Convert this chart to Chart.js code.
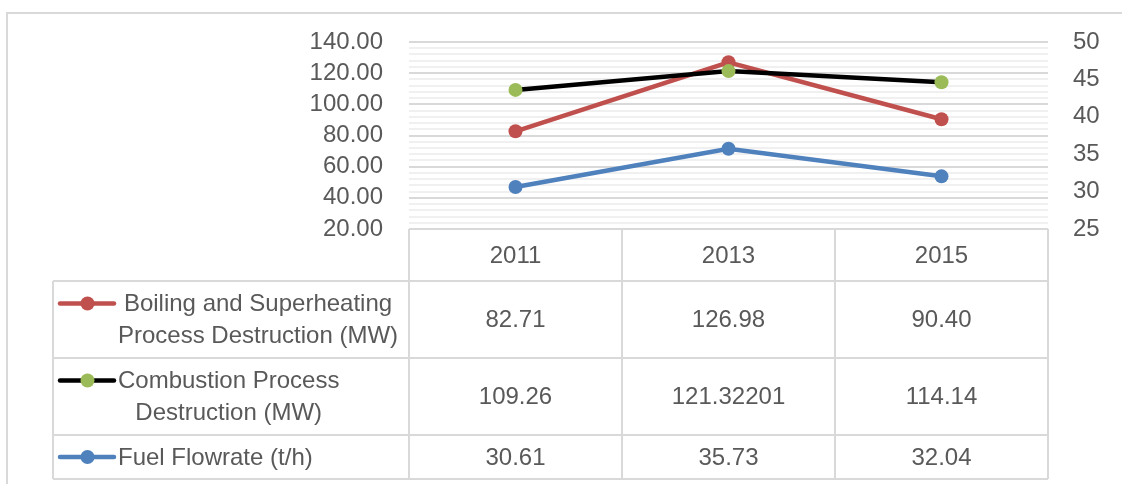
<!DOCTYPE html>
<html>
<head>
<meta charset="utf-8">
<script src="https://cdn.jsdelivr.net/npm/chart.js@4.4.1/dist/chart.umd.min.js"></script>
<style>
  html, body { margin: 0; padding: 0; background: #ffffff; }
  #wrap { width: 1122px; height: 484px; }
</style>
</head>
<body>
<div id="wrap"><canvas id="c" width="1122" height="484"></canvas></div>
<script>
// ---------- data ----------
const categories = ['2011', '2013', '2015'];
const boilingValues = [82.71, 126.98, 90.40];
const combustionValues = [109.26, 121.32201, 114.14];
const fuelValues = [30.61, 35.73, 32.04];

const seriesNames = [
  ['Boiling and Superheating', 'Process Destruction (MW)'],
  ['Combustion Process', 'Destruction (MW)'],
  ['Fuel Flowrate (t/h)']
];
const seriesDecimals = [2, null, 2];

const leftAxisMin = 20, leftAxisMax = 140, leftAxisStep = 20, leftMinorStep = 4;
const rightAxisMin = 25, rightAxisMax = 50, rightAxisStep = 5;

// ---------- style ----------
const TEXT = '#595959';
const GRID = '#d9d9d9';
const MINOR = '#f0f0f0';
const FONT = "'Liberation Sans', Arial, sans-serif";
const FS = 24;
const RED = '#C0504D', BLACK = '#000000', GREEN = '#9BBB59', BLUE = '#4F81BD';

const seriesStyle = [
  { line: RED, marker: RED },
  { line: BLACK, marker: GREEN },
  { line: BLUE, marker: BLUE }
];
const seriesData = [boilingValues, combustionValues, fuelValues];

Chart.defaults.font.family = FONT;
Chart.defaults.font.size = FS;
Chart.defaults.color = TEXT;

const headerH = 52;
const rowHeights = [77, 77, 44];
const legendLeft = 53;

const tablePlugin = {
  id: 'dataTable',
  beforeDraw(chart) {
    const ctx = chart.ctx;
    ctx.save();
    ctx.fillStyle = '#ffffff';
    ctx.fillRect(0, 0, chart.width, chart.height);
    ctx.strokeStyle = GRID;
    ctx.lineWidth = 2;
    ctx.beginPath();
    ctx.moveTo(7, chart.height + 2);
    ctx.lineTo(7, 13);
    ctx.lineTo(chart.width + 2, 13);
    ctx.stroke();
    ctx.restore();
  },
  afterDraw(chart) {
    const ctx = chart.ctx;
    const xs = chart.scales.x;
    const area = chart.chartArea;
    const centers = categories.map((c, i) => xs.getPixelForValue(i));
    const half = (centers[1] - centers[0]) / 2;
    const edges = [centers[0] - half].concat(centers.map(c => c + half));
    const top = area.bottom;
    const rowTops = [top + headerH];
    rowHeights.forEach((h, i) => rowTops.push(rowTops[i] + h));
    const bottom = rowTops[rowTops.length - 1];

    ctx.save();
    ctx.strokeStyle = GRID;
    ctx.lineWidth = 2;
    ctx.beginPath();
    // header top
    ctx.moveTo(edges[0], top); ctx.lineTo(edges[edges.length - 1], top);
    // row lines
    rowTops.forEach(y => { ctx.moveTo(legendLeft, y); ctx.lineTo(edges[edges.length - 1], y); });
    // vertical lines
    edges.forEach(x => { ctx.moveTo(x, top); ctx.lineTo(x, bottom); });
    ctx.moveTo(legendLeft, rowTops[0]); ctx.lineTo(legendLeft, bottom);
    ctx.stroke();

    ctx.fillStyle = TEXT;
    ctx.font = FS + 'px ' + FONT;
    ctx.textAlign = 'center';
    ctx.textBaseline = 'middle';
    // header
    categories.forEach((c, i) => ctx.fillText(c, centers[i], top + headerH / 2 + 1));
    // rows
    const lineGap = 32;
    seriesData.forEach((vals, r) => {
      const cy = (rowTops[r] + rowTops[r + 1]) / 2;
      vals.forEach((v, i) => {
        const s = seriesDecimals[r] == null ? String(v) : v.toFixed(seriesDecimals[r]);
        ctx.fillText(s, centers[i], cy + 1);
      });
      const lines = seriesNames[r];
      const firstY = cy - (lines.length - 1) * lineGap / 2;
      // legend key
      ctx.strokeStyle = seriesStyle[r].line;
      ctx.lineWidth = 4.5;
      ctx.lineCap = 'round';
      ctx.beginPath();
      ctx.moveTo(60, firstY); ctx.lineTo(114, firstY);
      ctx.stroke();
      ctx.fillStyle = seriesStyle[r].marker;
      ctx.beginPath();
      ctx.arc(87.5, firstY, 7, 0, Math.PI * 2);
      ctx.fill();
      // legend text
      ctx.fillStyle = TEXT;
      const widths = lines.map(l => ctx.measureText(l).width);
      const maxW = Math.max.apply(null, widths);
      const blockCx = 118 + maxW / 2;
      lines.forEach((l, k) => ctx.fillText(l, blockCx, firstY + k * lineGap + 1));
    });
    ctx.restore();
  }
};

function ds(label, data, idx, axis, order) {
  return {
    label: label,
    data: data,
    yAxisID: axis,
    order: order,
    borderColor: seriesStyle[idx].line,
    backgroundColor: seriesStyle[idx].marker,
    borderWidth: 4.5,
    pointRadius: 7,
    pointBorderWidth: 0,
    pointBackgroundColor: seriesStyle[idx].marker,
    pointBorderColor: seriesStyle[idx].marker,
    tension: 0,
    fill: false
  };
}

new Chart(document.getElementById('c'), {
  type: 'line',
  data: {
    labels: categories,
    datasets: [
      ds(seriesNames[0].join(' '), boilingValues, 0, 'y', 1),
      ds(seriesNames[1].join(' '), combustionValues, 1, 'y', 0),
      ds(seriesNames[2][0], fuelValues, 2, 'y1', 2)
    ]
  },
  options: {
    responsive: false,
    animation: false,
    devicePixelRatio: 1,
    layout: { padding: { top: 42, bottom: 484 - 229, left: 0, right: 0 } },
    plugins: { legend: { display: false }, tooltip: { enabled: false } },
    scales: {
      x: { type: 'category', display: false, offset: true },
      y: {
        position: 'left',
        min: leftAxisMin, max: leftAxisMax,
        afterFit(s) { s.width = 409; },
        border: { display: false },
        grid: {
          drawTicks: false,
          lineWidth: 2,
          color: c => (Math.round(c.tick.value) % leftAxisStep === 0 ? GRID : MINOR)
        },
        ticks: {
          stepSize: leftMinorStep,
          autoSkip: false,
          padding: 26,
          color: TEXT,
          font: { size: FS },
          callback: v => (Math.round(v) % leftAxisStep === 0 ? Number(v).toFixed(2) : '')
        }
      },
      y1: {
        position: 'right',
        min: rightAxisMin, max: rightAxisMax,
        afterFit(s) { s.width = 1122 - 1048; },
        border: { display: false },
        grid: { display: false, drawTicks: false },
        ticks: { stepSize: rightAxisStep, padding: 25, color: TEXT, font: { size: FS } }
      }
    }
  },
  plugins: [tablePlugin]
});
</script>
</body>
</html>
